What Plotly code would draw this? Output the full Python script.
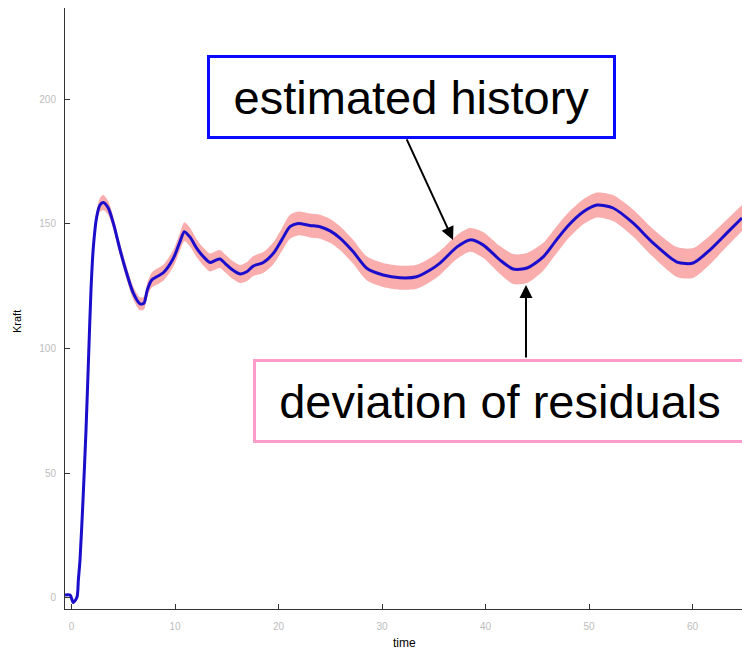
import plotly.graph_objects as go

# ---- data ----
time = [-0.63, -0.14, 0.17, 0.53, 0.66, 0.82, 1.11, 1.40, 1.64, 1.88, 2.11, 2.43, 2.75, 3.07,
        3.56, 4.04, 4.69, 5.33, 5.97, 6.62, 7.00, 7.32, 7.75, 8.23, 8.87, 9.84, 10.48, 10.90,
        11.45, 12.10, 12.73, 13.38, 13.86, 14.35, 14.83, 15.48, 16.28, 16.93, 17.57, 18.53,
        19.50, 20.31, 21.11, 21.88, 23.04, 24.01, 24.98, 25.94, 27.20, 28.52, 30.10, 31.74,
        33.35, 34.64, 35.60, 37.25, 38.50, 39.76, 41.40, 42.66, 44.01, 45.55, 46.71, 47.87,
        49.42, 50.77, 52.32, 54.25, 56.18, 58.50, 60.05, 61.69, 63.33, 64.78]
kraft = [1.0, 1.0, -2.0, 0.2, 7.0, 15.1, 39.2, 67.3, 95.4, 123.5, 140.8, 152.8, 157.6, 158.6,
         156.3, 150.3, 139.6, 130.2, 122.2, 117.9, 118.2, 123.5, 127.5, 128.8, 130.4, 136.2,
         142.9, 146.9, 144.7, 140.2, 136.9, 134.5, 135.3, 135.9, 134.2, 131.8, 129.9, 130.8,
         133.1, 134.5, 138.2, 143.6, 148.9, 150.2, 149.4, 148.9, 147.2, 144.3, 138.9, 132.2,
         129.5, 128.4, 128.8, 131.5, 134.3, 140.8, 143.6, 141.6, 135.5, 131.9, 132.3, 136.7,
         142.8, 148.8, 154.8, 157.6, 156.4, 150.4, 142.4, 134.7, 134.3, 139.6, 146.4, 152.4]
resid_dev = [0.4, 0.4, 0.6, 0.8, 0.8, 1.0, 1.2, 1.4, 1.6, 1.8, 2.0, 2.4, 2.8, 3.0,
             2.8, 2.6, 2.6, 2.6, 2.6, 2.6, 2.6, 2.8, 3.0, 3.2, 3.2, 3.4, 3.6, 3.8,
             3.8, 3.6, 3.6, 3.6, 3.6, 3.6, 3.6, 3.6, 3.6, 3.8, 4.0, 4.2, 4.4, 4.6,
             4.8, 4.8, 4.8, 4.8, 4.8, 4.8, 4.8, 4.8, 4.8, 4.8, 4.8, 4.8, 4.8, 4.8,
             4.8, 5.2, 5.6, 6.0, 6.0, 5.6, 5.4, 5.2, 5.0, 5.0, 5.2, 5.4, 5.6, 6.0,
             6.0, 5.8, 5.4, 5.2]

x_ticks = [0, 10, 20, 30, 40, 50, 60]
x_tick_labels = ["0", "10", "20", "30", "40", "50", "60"]
y_ticks = [0, 50, 100, 150, 200]
y_tick_labels = ["0", "50", "100", "150", "200"]

lower = [k - d for k, d in zip(kraft, resid_dev)]
upper = [k + d for k, d in zip(kraft, resid_dev)]

FONT = "Liberation Sans, Arial, Helvetica, sans-serif"

fig = go.Figure()
fig.add_trace(go.Scatter(x=time, y=lower, mode="lines",
                         line=dict(width=0, shape="spline", smoothing=0.7),
                         hoverinfo="skip", showlegend=False))
fig.add_trace(go.Scatter(x=time, y=upper, mode="lines", fill="tonexty",
                         fillcolor="#f9adad",
                         line=dict(width=0, shape="spline", smoothing=0.7),
                         hoverinfo="skip", showlegend=False))
fig.add_trace(go.Scatter(x=time, y=kraft, mode="lines",
                         line=dict(color="#1a0dcc", width=3, shape="spline", smoothing=0.7),
                         showlegend=False))

axis_common = dict(showgrid=False, zeroline=False, showline=True, linecolor="#333333",
                   linewidth=1, ticks="inside", ticklen=5, tickcolor="#333333",
                   tickfont=dict(family=FONT, size=10, color="#bdbdbd"))

fig.update_xaxes(range=[-0.63, 64.78], tickvals=x_ticks, ticktext=x_tick_labels,
                 ticklabelstandoff=8, **axis_common)
fig.update_yaxes(range=[-4.6, 236.7], tickvals=y_ticks, ticktext=y_tick_labels,
                 ticklabelstandoff=6, **axis_common)

annotations = [
    # text boxes
    dict(xref="paper", yref="paper", x=0.5118, y=0.8519, xanchor="center", yanchor="middle",
         text="estimated history", showarrow=False, width=403, height=78,
         font=dict(family=FONT, size=47, color="black"),
         bgcolor="white", bordercolor="#0a0aff", borderwidth=3, borderpad=0),
    dict(xref="paper", yref="paper", x=0.6425, y=0.3461, xanchor="center", yanchor="middle",
         text="deviation of residuals", showarrow=False, width=488, height=78,
         font=dict(family=FONT, size=47, color="black"),
         bgcolor="white", bordercolor="#ff9ccc", borderwidth=3, borderpad=0),
    # arrows
    dict(xref="x", yref="y", x=36.86, y=143.6, ax=-47, ay=-102, text="",
         showarrow=True, arrowhead=2, arrowsize=1.3, arrowwidth=2, arrowcolor="black"),
    dict(xref="x", yref="y", x=43.91, y=125.5, ax=0, ay=74, text="",
         showarrow=True, arrowhead=2, arrowsize=1.3, arrowwidth=2, arrowcolor="black"),
    # axis titles
    dict(xref="paper", yref="paper", x=(17 - 65) / 677, y=(609 - 322) / 601,
         xanchor="center", yanchor="middle", text="Kraft", textangle=-90, showarrow=False,
         font=dict(family=FONT, size=11, color="black")),
    dict(xref="paper", yref="paper", x=(404 - 65) / 677, y=(609 - 643) / 601,
         xanchor="center", yanchor="middle", text="time", showarrow=False,
         font=dict(family=FONT, size=12, color="black")),
]

fig.update_layout(
    width=742, height=652,
    margin=dict(l=65, r=0, t=8, b=43),
    paper_bgcolor="white", plot_bgcolor="white",
    annotations=annotations,
    showlegend=False,
)

fig.write_html("out.html")
